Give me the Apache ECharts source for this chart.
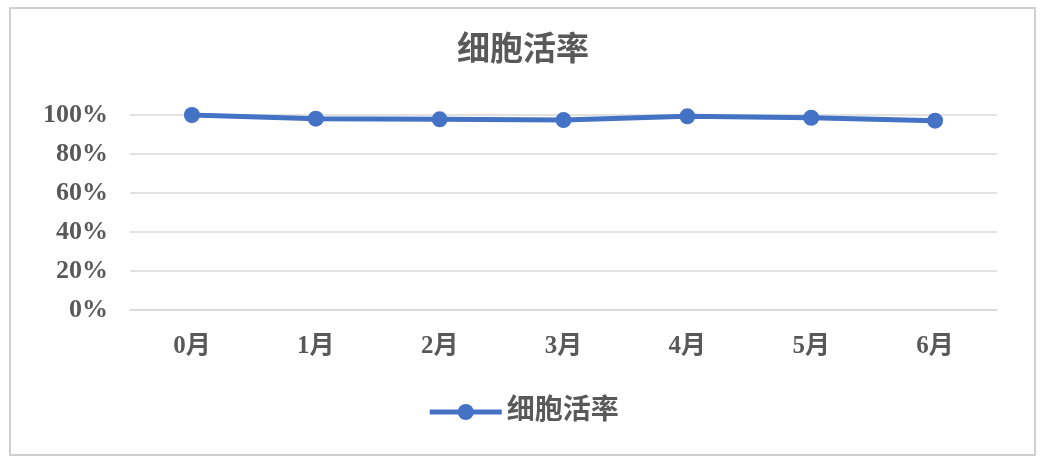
<!DOCTYPE html>
<html>
<head>
<meta charset="utf-8">
<script src="https://cdn.jsdelivr.net/npm/echarts@6/dist/echarts.min.js"></script>
<style>
  html, body { margin: 0; padding: 0; background: #fff; }
  #main { width: 1046px; height: 467px; }
</style>
</head>
<body>
<div id="main"></div>
<script>
var months = ['0月', '1月', '2月', '3月', '4月', '5月', '6月'];
var viability = [100, 98.1, 97.8, 97.4, 99.3, 98.6, 97.1];
var seriesName = '细胞活率';

document.addEventListener('DOMContentLoaded', function() {
    var myChart = echarts.init(document.getElementById('main'));
    var textFont = '"Liberation Serif", "Noto Sans CJK SC", serif';

    var option = {
        animation: false,
        title: {
            text: seriesName,
            left: 'center',
            top: 30,
            textStyle: { fontSize: 33, fontWeight: 'bold', color: '#595959', fontFamily: textFont }
        },
        graphic: [{
            type: 'rect',
            shape: { x: 10, y: 8, width: 1025, height: 447 },
            style: { fill: 'none', stroke: '#d0d0d0', lineWidth: 2 },
            silent: true
        }],
        legend: {
            data: [seriesName],
            bottom: 36,
            left: 'center',
            itemWidth: 72,
            itemHeight: 20,
            itemGap: 8,
            lineStyle: { width: 5 },
            textStyle: { fontSize: 28, fontWeight: 'bold', color: '#595959', fontFamily: textFont }
        },
        grid: { left: 130, right: 49, top: 115, bottom: 157 },
        xAxis: {
            type: 'category',
            data: months,
            boundaryGap: true,
            axisLine: { lineStyle: { color: '#d9d9d9', width: 1.5 } },
            axisTick: { show: false },
            axisLabel: { margin: 24, fontSize: 25, fontWeight: 'bold', color: '#595959', fontFamily: textFont }
        },
        yAxis: {
            type: 'value',
            min: 0,
            max: 100,
            interval: 20,
            axisLine: { show: false },
            axisTick: { show: false },
            splitLine: { lineStyle: { color: '#d9d9d9', width: 1.5 } },
            axisLabel: {
                margin: 22,
                formatter: '{value}%',
                fontSize: 26,
                fontWeight: 'bold',
                color: '#595959',
                fontFamily: textFont
            }
        },
        series: [{
            name: seriesName,
            type: 'line',
            data: viability,
            symbol: 'circle',
            symbolSize: 16,
            lineStyle: { color: '#4472C4', width: 5 },
            itemStyle: { color: '#4472C4' }
        }]
    };

    myChart.setOption(option);
});
</script>
</body>
</html>
